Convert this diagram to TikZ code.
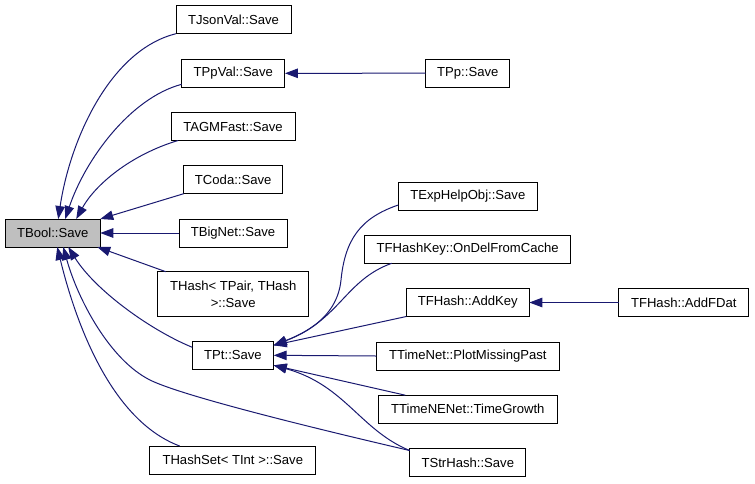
\documentclass[tikz,border=0pt]{standalone}
\usepackage{fontspec}
\setmainfont{Liberation Sans}
\usetikzlibrary{arrows.meta}
\definecolor{edgeblue}{RGB}{25,25,112}
\definecolor{tboolgray}{RGB}{191,191,191}
\begin{document}
\begin{tikzpicture}[x=1pt,y=-1pt,
  box/.style={draw=black, line width=1pt, fill=white, minimum height=28pt, inner sep=0pt, outer sep=0pt, font=\fontsize{13.1}{17}\selectfont},
  edge/.style={draw=edgeblue, line width=1pt, -{Triangle[length=13pt,width=9.5pt]}}]
\useasboundingbox (0,0) rectangle (755,483);
% nodes
\node[box, fill=tboolgray, minimum width=95pt] (tbool) at (52.75,233) {TBool::Save};
\node[box, minimum width=115pt] (tjson) at (233.5,19.7) {TJsonVal::Save};
\node[box, minimum width=103.3pt] (tppval) at (233.3,73.3) {TPpVal::Save};
\node[box, minimum width=84.3pt] (tpp) at (467.8,73.2) {TPp::Save};
\node[box, minimum width=124pt] (tagm) at (233,126.5) {TAGMFast::Save};
\node[box, minimum width=99pt] (tcoda) at (233.2,179.7) {TCoda::Save};
\node[box, minimum width=108pt] (tbignet) at (233,233) {TBigNet::Save};
\node[box, minimum width=151pt, minimum height=45.3pt, align=center] (thash) at (233.2,294.3) {THash< TPair, THash\\>::Save};
\node[box, minimum width=81.4pt] (tpt) at (233,355.3) {TPt::Save};
\node[box, minimum width=166.3pt] (thashset) at (232.8,460) {THashSet< TInt >::Save};
\node[box, minimum width=139pt] (texp) at (467.8,196) {TExpHelpObj::Save};
\node[box, minimum width=206pt] (tfhk) at (467.7,249.3) {TFHashKey::OnDelFromCache};
\node[box, minimum width=123pt] (taddkey) at (467.8,302.5) {TFHash::AddKey};
\node[box, minimum width=129.7pt] (taddfdat) at (683.8,302.5) {TFHash::AddFDat};
\node[box, minimum width=183pt] (ttimenet) at (467.8,356) {TTimeNet::PlotMissingPast};
\node[box, minimum width=179pt] (ttnenet) at (467.8,409.2) {TTimeNENet::TimeGrowth};
\node[box, minimum width=116.3pt] (tstrhash) at (467.8,462.5) {TStrHash::Save};
% edges into TBool::Save
\draw[edge] (tjson.south west) .. controls (110,50) and (70,140) .. ([xshift=5.5pt]tbool.north);
\draw[edge] ([yshift=3pt]tppval.south west) .. controls (130,98) and (85,160) .. ([xshift=12.5pt]tbool.north);
\draw[edge] ([xshift=7pt]tagm.south west) .. controls (130,155) and (95,185) .. ([xshift=23.5pt]tbool.north);
\draw[edge] (tcoda.south west) -- (tbool.north east);
\draw[edge] (tbignet.west) -- (tbool.east);
\draw[edge] ([xshift=8pt]thash.north west) -- ([xshift=-3pt]tbool.south east);
\draw[edge] ([yshift=-6pt]tpt.north west) .. controls (150,330) and (95,290) .. ([xshift=15.5pt]tbool.south);
\draw[edge] ([yshift=-2pt]tstrhash.north west) .. controls (300,425) and (180,395) .. (150,380) .. controls (110,360) and (78,300) .. ([xshift=10.5pt]tbool.south);
\draw[edge] ([xshift=30pt]thashset.north west) .. controls (110,420) and (75,320) .. ([xshift=4.5pt]tbool.south);
% other edges
\draw[edge] (tpp.west) -- (tppval.east);
\draw[edge] ([yshift=5pt]texp.south west) .. controls (360,218) and (345,240) .. (341,280) .. controls (337,320) and (300,335) .. ([yshift=10pt]tpt.east);
\draw[edge] ([xshift=27pt]tfhk.south west) .. controls (345,280) and (340,320) .. ([yshift=10pt]tpt.east);
\draw[edge] (taddkey.south west) -- ([yshift=10pt]tpt.east);
\draw[edge] (ttimenet.west) -- (tpt.east);
\draw[edge] ([xshift=27pt]ttnenet.north west) -- ([yshift=-10pt]tpt.east);
\draw[edge] ([yshift=-2pt]tstrhash.north west) .. controls (360,430) and (345,385) .. ([yshift=-10pt]tpt.east);
\draw[edge] (taddfdat.west) -- (taddkey.east);
\end{tikzpicture}
\end{document}
